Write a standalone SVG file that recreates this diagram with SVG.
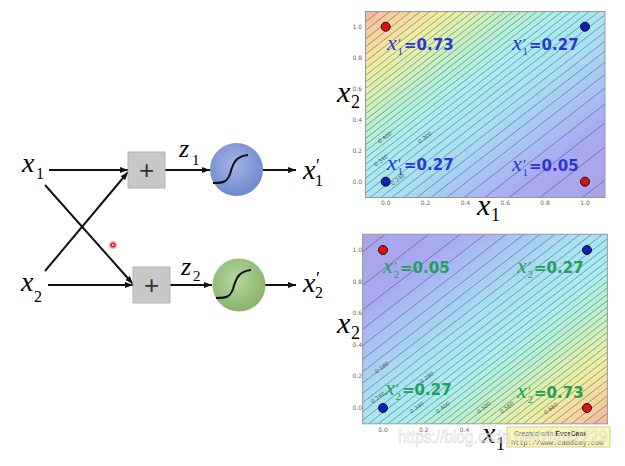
<svg xmlns="http://www.w3.org/2000/svg" xmlns:xlink="http://www.w3.org/1999/xlink" width="625" height="466" viewBox="0 0 625 466">
<style>
.mi{font-family:"Liberation Serif","DejaVu Serif",serif;font-style:italic}
.ms{font-family:"Liberation Serif","DejaVu Serif",serif}
.tk{font-family:"DejaVu Sans","Liberation Sans",sans-serif;font-size:6px;fill:#666}
.eq{font-family:"DejaVu Sans","Liberation Sans",sans-serif;font-weight:bold;font-size:15px}
.cl{font-family:"DejaVu Sans","Liberation Sans",sans-serif;font-size:5.5px;fill:#333;opacity:.75}
.ln{stroke:#111;stroke-width:2;fill:none}
.ct{stroke:#333;stroke-opacity:.7;stroke-width:.6;fill:none;vector-effect:non-scaling-stroke}
.frame{fill:none;stroke:#999;stroke-width:1}
.box{fill:#c8c8c8;stroke:#b4b4b4;stroke-width:1}
.plus{font-family:"Liberation Sans",sans-serif;font-size:26px;fill:#333;text-anchor:middle}
.blue{fill:#2b35d8}
.green{fill:#22a05a}
.rd{fill:#e01010;stroke:#111;stroke-width:1}
.bd{fill:#1020c0;stroke:#111;stroke-width:1}
</style>
<defs>
<marker id="ah" markerUnits="userSpaceOnUse" markerWidth="9" markerHeight="7" refX="8" refY="3.5" orient="auto">
<path d="M0,0.5 L8,3.5 L0,6.5 z" fill="#111"/>
</marker>
<radialGradient id="gb" cx="0.45" cy="0.4" r="0.6">
<stop offset="0" stop-color="#a3b5e8"/><stop offset="1" stop-color="#7088cc"/>
</radialGradient>
<radialGradient id="gg" cx="0.45" cy="0.4" r="0.6">
<stop offset="0" stop-color="#b6d6a0"/><stop offset="1" stop-color="#88b46c"/>
</radialGradient>
<linearGradient id="jet" gradientUnits="userSpaceOnUse" x1="0.6" y1="-0.6" x2="-0.6" y2="0.6">
<stop offset="0" stop-color="#a9a3e8"/>
<stop offset="0.2" stop-color="#a9aaf2"/>
<stop offset="0.33" stop-color="#a9c6f5"/>
<stop offset="0.45" stop-color="#a8e0f4"/>
<stop offset="0.58" stop-color="#a9eef0"/>
<stop offset="0.68" stop-color="#b8f0d2"/>
<stop offset="0.76" stop-color="#d8f2b4"/>
<stop offset="0.84" stop-color="#f0eea4"/>
<stop offset="0.92" stop-color="#f5d3a0"/>
<stop offset="1" stop-color="#f3b69e"/>
</linearGradient>
<clipPath id="cp" clipPathUnits="userSpaceOnUse"><rect x="-0.1" y="-0.1" width="1.2" height="1.2"/></clipPath>
<g id="field">
<rect x="-0.1" y="-0.1" width="1.2" height="1.2" fill="url(#jet)"/>
<path class="ct" clip-path="url(#cp)" d="M-0.2,-1.289L1.2,0.111M-0.2,-1.076L1.2,0.324M-0.2,-0.921L1.2,0.479M-0.2,-0.799L1.2,0.601M-0.2,-0.696L1.2,0.704M-0.2,-0.608L1.2,0.792M-0.2,-0.529L1.2,0.871M-0.2,-0.458L1.2,0.942M-0.2,-0.393L1.2,1.007M-0.2,-0.333L1.2,1.067M-0.2,-0.277L1.2,1.123M-0.2,-0.223L1.2,1.177M-0.2,-0.172L1.2,1.228M-0.2,-0.123L1.2,1.277M-0.2,-0.077L1.2,1.323M-0.2,-0.031L1.2,1.369M-0.2,0.013L1.2,1.413M-0.2,0.055L1.2,1.455M-0.2,0.098L1.2,1.498M-0.2,0.139L1.2,1.539M-0.2,0.18L1.2,1.58M-0.2,0.22L1.2,1.62M-0.2,0.26L1.2,1.66M-0.2,0.3L1.2,1.7M-0.2,0.34L1.2,1.74M-0.2,0.38L1.2,1.78M-0.2,0.42L1.2,1.82M-0.2,0.461L1.2,1.861M-0.2,0.503L1.2,1.903M-0.2,0.545L1.2,1.945M-0.2,0.587L1.2,1.987M-0.2,0.631L1.2,2.031M-0.2,0.677L1.2,2.077M-0.2,0.724L1.2,2.124M-0.2,0.772L1.2,2.172M-0.2,0.823L1.2,2.223M-0.2,0.877L1.2,2.277M-0.2,0.933L1.2,2.333M-0.2,0.993L1.2,2.393"/>
</g>
<path id="sig" d="M213,183 C224,183 227,182 230,174 C233,163 236,156 248,155"/>
</defs>
<rect width="625" height="466" fill="#fff"/>

<!-- connectors -->
<g id="connectors" class="ln">
<path d="M49,170 H128" marker-end="url(#ah)"/>
<path d="M45,271 L128,172" marker-end="url(#ah)"/>
<path d="M45,185 L133,284" marker-end="url(#ah)"/>
<path d="M48,285 H133" marker-end="url(#ah)"/>
<path d="M165,170 H210" marker-end="url(#ah)"/>
<path d="M170,285 H212" marker-end="url(#ah)"/>
<path d="M263,170 H296" marker-end="url(#ah)"/>
<path d="M265,285 H296" marker-end="url(#ah)"/>
</g>

<g id="in-x1"><text class="mi" x="22" y="172" font-size="28">x</text><text class="ms" x="36" y="179" font-size="16">1</text></g>
<g id="in-x2"><text class="mi" x="21" y="291" font-size="28">x</text><text class="ms" x="34" y="302" font-size="16">2</text></g>

<g id="sum1"><rect class="box" x="128" y="152" width="37" height="36"/><text class="plus" x="146.5" y="179">+</text></g>
<g id="sum2"><rect class="box" x="133" y="267" width="37" height="36"/><text class="plus" x="151.5" y="294">+</text></g>

<g id="z1"><text class="mi" x="179" y="157" font-size="26">z</text><text class="ms" x="192" y="165" font-size="15">1</text></g>
<g id="z2"><text class="mi" x="181" y="275" font-size="26">z</text><text class="ms" x="193" y="281" font-size="15">2</text></g>

<g id="act1"><circle cx="236.5" cy="169.5" r="26.5" fill="url(#gb)"/><use xlink:href="#sig" class="ln" stroke-width="3"/></g>
<g id="act2"><circle cx="239" cy="285" r="26.5" fill="url(#gg)"/><use xlink:href="#sig" class="ln" stroke-width="3" transform="translate(3,115)"/></g>

<g id="out-x1"><text class="mi" x="303" y="179" font-size="28">x</text><text class="ms" x="316" y="172" font-size="18">′</text><text class="ms" x="315" y="186" font-size="16">1</text></g>
<g id="out-x2"><text class="mi" x="303" y="292" font-size="28">x</text><text class="ms" x="316" y="285" font-size="18">′</text><text class="ms" x="315" y="298" font-size="16">2</text></g>

<g id="cursor"><circle cx="113" cy="245" r="4" fill="#ff9a9a" opacity="0.8"/><circle cx="113" cy="245" r="2.6" fill="#e02020"/><circle cx="113" cy="245" r="1" fill="#fff"/></g>

<!-- top plot -->
<g id="plot1">
<g transform="matrix(199.3,0,0,-155,385.7,181.7)"><use xlink:href="#field"/></g>
<rect class="frame" x="365.5" y="11.5" width="239.5" height="186"/>
<g class="cl">
<text transform="translate(386,139) rotate(-38)" text-anchor="middle">0.400</text>
<text transform="translate(426,139) rotate(-38)" text-anchor="middle">0.300</text>
<text transform="translate(382,162) rotate(-38)" text-anchor="middle">0.340</text>
<text transform="translate(399,181) rotate(-38)" text-anchor="middle">0.240</text>
</g>
<g class="tk" text-anchor="middle">
<text x="385.7" y="205">0.0</text><text x="425.6" y="205">0.2</text><text x="465.4" y="205">0.4</text><text x="505.3" y="205">0.6</text><text x="545.1" y="205">0.8</text><text x="585" y="205">1.0</text>
</g>
<g class="tk" text-anchor="end">
<text x="362" y="28.7">1.0</text><text x="362" y="59.7">0.8</text><text x="362" y="90.7">0.6</text><text x="362" y="121.7">0.4</text><text x="362" y="152.7">0.2</text><text x="362" y="183.7">0.0</text>
</g>
<circle class="rd" cx="385.7" cy="26.7" r="4.5"/><circle class="bd" cx="585" cy="26.7" r="4.5"/>
<circle class="bd" cx="385.7" cy="181.7" r="4.5"/><circle class="rd" cx="585" cy="181.7" r="4.5"/>
<g class="blue">
<text class="mi" x="387" y="50" font-size="22">x</text><text class="ms" x="398" y="49" font-size="14">′</text><text class="ms" x="397.5" y="55" font-size="11">1</text><text class="eq" x="404" y="50">=0.73</text>
<text class="mi" x="512" y="50" font-size="22">x</text><text class="ms" x="523" y="49" font-size="14">′</text><text class="ms" x="522.5" y="55" font-size="11">1</text><text class="eq" x="529" y="50">=0.27</text>
<text class="mi" x="387" y="170" font-size="22">x</text><text class="ms" x="398" y="169" font-size="14">′</text><text class="ms" x="397.5" y="175" font-size="11">1</text><text class="eq" x="404" y="170">=0.27</text>
<text class="mi" x="512" y="171" font-size="22">x</text><text class="ms" x="523" y="170" font-size="14">′</text><text class="ms" x="522.5" y="176" font-size="11">1</text><text class="eq" x="529" y="171">=0.05</text>
</g>
<text class="mi" x="337" y="102" font-size="30">x</text><text class="ms" x="351" y="108" font-size="18">2</text>
<text class="mi" x="477" y="215" font-size="30">x</text><text class="ms" x="491" y="221" font-size="18">1</text>
</g>

<!-- bottom plot -->
<g id="plot2">
<g transform="matrix(204,0,0,-158,383,408)"><use xlink:href="#field" transform="matrix(0,1,1,0,0,0)"/></g>
<rect class="frame" x="362.6" y="234.2" width="244.8" height="189.6"/>
<g class="cl">
<text transform="translate(383,369) rotate(-38)" text-anchor="middle">0.180</text>
<text transform="translate(428,379) rotate(-38)" text-anchor="middle">0.280</text>
<text transform="translate(379,399) rotate(-38)" text-anchor="middle">0.240</text>
<text transform="translate(418,409) rotate(-38)" text-anchor="middle">0.340</text>
<text transform="translate(444,409) rotate(-38)" text-anchor="middle">0.400</text>
<text transform="translate(485,409) rotate(-38)" text-anchor="middle">0.500</text>
<text transform="translate(508,409) rotate(-38)" text-anchor="middle">0.560</text>
<text transform="translate(552,410) rotate(-38)" text-anchor="middle">0.660</text>
</g>
<g class="tk" text-anchor="middle">
<text x="383" y="432">0.0</text><text x="423.8" y="432">0.2</text><text x="464.6" y="432">0.4</text>
</g>
<g class="tk" text-anchor="end">
<text x="362" y="252">1.0</text><text x="362" y="283.6">0.8</text><text x="362" y="315.2">0.6</text><text x="362" y="346.8">0.4</text><text x="362" y="378.4">0.2</text><text x="362" y="410">0.0</text>
</g>
<circle class="rd" cx="383" cy="250" r="4.5"/><circle class="bd" cx="587" cy="250" r="4.5"/>
<circle class="bd" cx="383" cy="408" r="4.5"/><circle class="rd" cx="587" cy="408" r="4.5"/>
<g class="green">
<text class="mi" x="383" y="273" font-size="22">x</text><text class="ms" x="394" y="272" font-size="14">′</text><text class="ms" x="393.5" y="278" font-size="11">2</text><text class="eq" x="400" y="273">=0.05</text>
<text class="mi" x="517" y="273" font-size="22">x</text><text class="ms" x="528" y="272" font-size="14">′</text><text class="ms" x="527.5" y="278" font-size="11">2</text><text class="eq" x="534" y="273">=0.27</text>
<text class="mi" x="385" y="395" font-size="22">x</text><text class="ms" x="396" y="394" font-size="14">′</text><text class="ms" x="395.5" y="400" font-size="11">2</text><text class="eq" x="402" y="395">=0.27</text>
<text class="mi" x="517" y="398" font-size="22">x</text><text class="ms" x="528" y="397" font-size="14">′</text><text class="ms" x="527.5" y="403" font-size="11">2</text><text class="eq" x="534" y="398">=0.73</text>
</g>
<text class="mi" x="337" y="333" font-size="30">x</text><text class="ms" x="351" y="339" font-size="18">2</text>
<text class="mi" x="482" y="443" font-size="30">x</text><text class="ms" x="496" y="450" font-size="18">1</text>
</g>

<g id="evercam">
<rect x="507" y="427" width="103" height="20" fill="#fbf7b4" stroke="#d6cf9c" stroke-width="1"/>
<text x="514" y="436" font-family="'Liberation Sans',sans-serif" font-size="7" fill="#666">Created with <tspan font-weight="bold" fill="#333">EverCam</tspan></text>
<text x="511" y="444.5" font-family="'Liberation Mono',monospace" font-size="7" fill="#666">http://www.camdemy.com</text>
</g>
<text x="398" y="443" font-family="'Liberation Sans',sans-serif" font-size="18" textLength="209" lengthAdjust="spacingAndGlyphs" fill="#ffffff" fill-opacity="0.55" stroke="#c8c8c8" stroke-width="0.6" stroke-opacity="0.8">https://blog.csdn.net/zhml2229</text>
</svg>
